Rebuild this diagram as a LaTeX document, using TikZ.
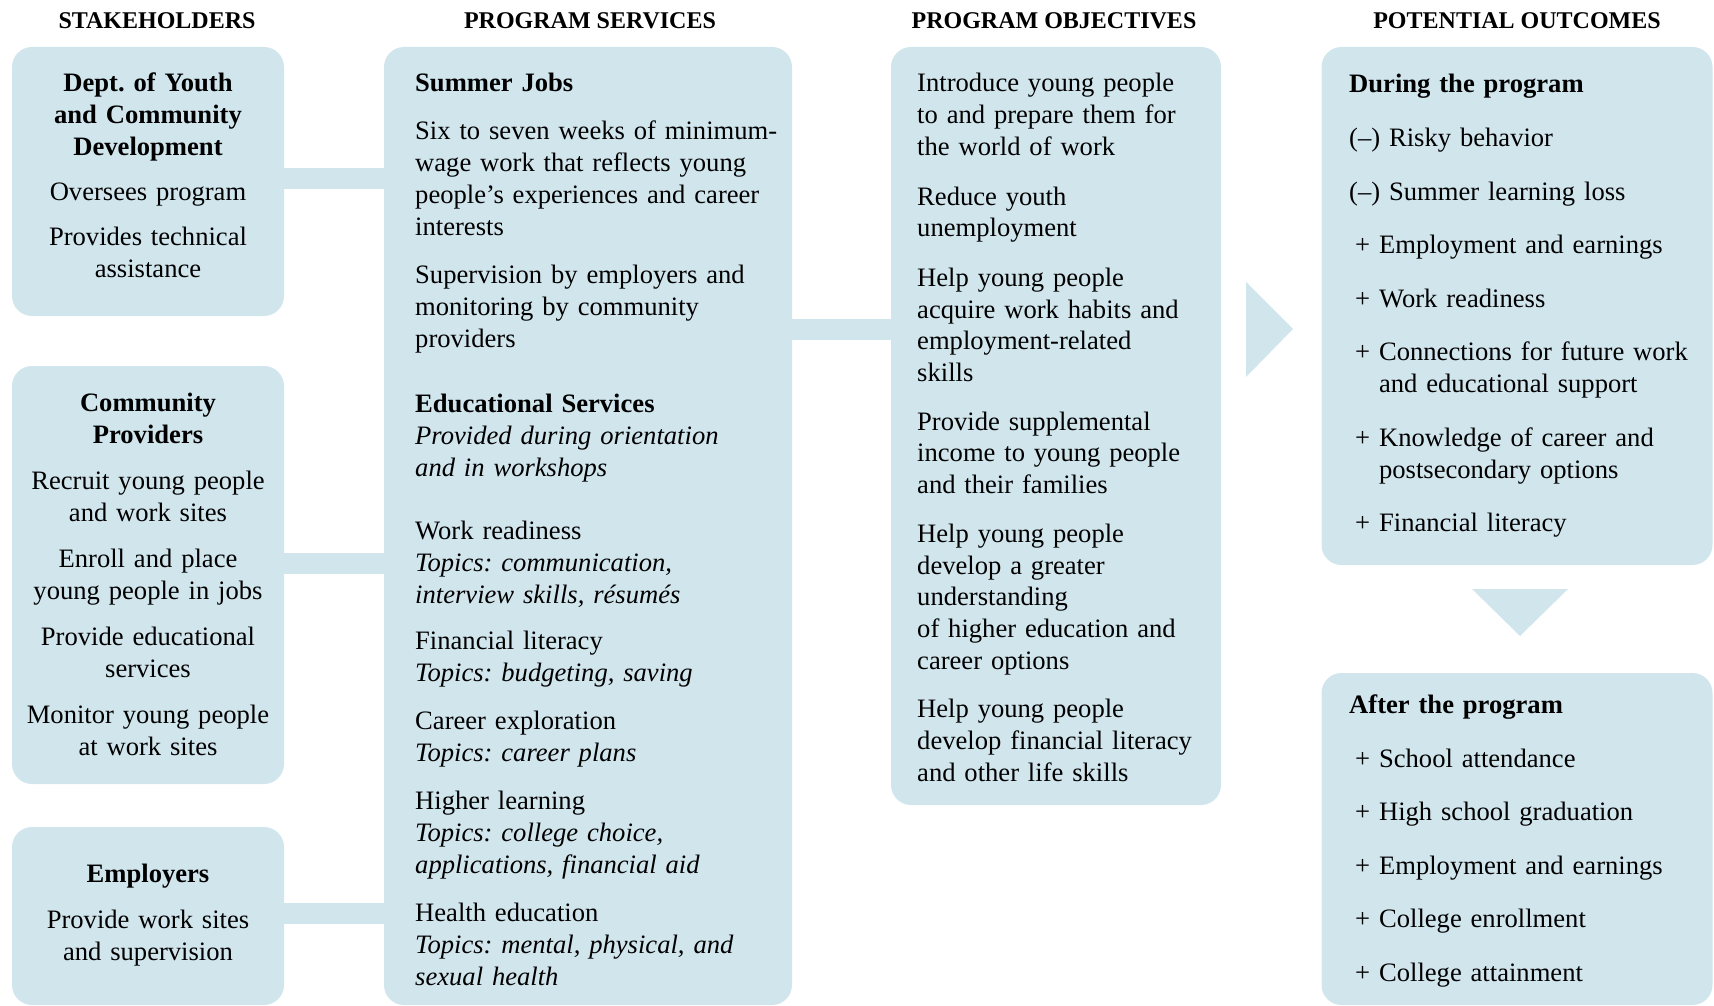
\documentclass[tikz,border=0pt]{standalone}
\usepackage{fontspec}
\setmainfont{Liberation Serif}
\frenchspacing
\definecolor{panelblue}{RGB}{209,229,237}
\newcommand{\pitem}{\hspace*{6pt}+\ }
\newcommand{\pcont}{\hspace*{6pt}\hphantom{+\ }}

\begin{document}
\begin{tikzpicture}[x=1pt, y=-1pt,
  panel/.style={fill=panelblue, rounded corners=20pt, inner sep=0pt},
  bar/.style={draw=panelblue, line width=21pt},
  head/.style={anchor=base, inner sep=0pt, font=\fontsize{24}{28}\selectfont\bfseries},
  ctext/.style={anchor=base, align=center, text width=270pt, inner sep=0pt,
                font=\fontsize{26.6}{32}\selectfont},
  ltext/.style={anchor=base west, align=left, text width=400pt, inner sep=0pt,
                font=\fontsize{26.6}{32}\selectfont}]
  \useasboundingbox (0,0) rectangle (1714,1006);

  % column titles
  \node[head] (h-stake) at (157,29) {STAKEHOLDERS};
  \node[head] (h-serv)  at (590,29) {PROGRAM SERVICES};
  \node[head] (h-obj)   at (1054,29) {PROGRAM OBJECTIVES};
  \node[head] (h-out)   at (1517,29) {POTENTIAL OUTCOMES};

  % panels
  \node[panel, minimum width=272pt, minimum height=269pt] (dyd) at (148,181.5) {};
  \node[panel, minimum width=272pt, minimum height=418pt] (cp)  at (148,575) {};
  \node[panel, minimum width=272pt, minimum height=178pt] (emp) at (148,916) {};
  \node[panel, minimum width=408pt, minimum height=958pt] (svc) at (588,526) {};
  \node[panel, minimum width=330pt, minimum height=758pt] (obj) at (1056,426) {};
  \node[panel, minimum width=391pt, minimum height=518pt] (dur) at (1517,306) {};
  \node[panel, minimum width=391pt, minimum height=332pt] (aft) at (1517,839) {};

  % links between panels
  \coordinate (l1) at (0,178.5);
  \coordinate (l2) at (0,563.5);
  \coordinate (l3) at (0,913.5);
  \coordinate (l4) at (0,329);
  \draw[bar] (dyd.east |- l1) -- (svc.west |- l1);
  \draw[bar] (cp.east |- l2) -- (svc.west |- l2);
  \draw[bar] (emp.east |- l3) -- (svc.west |- l3);
  \draw[bar] (svc.east |- l4) -- (obj.west |- l4);

  % arrow heads
  \fill[panelblue] (1246,282) -- (1293,329) -- (1246,377) -- cycle;
  \fill[panelblue] (1472,589) -- (1568,589) -- (1520,636) -- cycle;

  % stakeholders
  \node[ctext] (dyd-txt) at (148,92) {\bfseries Dept. of Youth\\and Community\\Development\\[13pt]
    \mdseries Oversees program\\[13pt]Provides technical\\assistance};
  \node[ctext] (cp-txt) at (148,411) {\bfseries Community\\Providers\\[14pt]
    \mdseries Recruit young people\\and work sites\\[14pt]Enroll and place\\young people in jobs\\[14pt]
    Provide educational\\services\\[14pt]Monitor young people\\at work sites};
  \node[ctext] (emp-txt) at (148,882) {\bfseries Employers\\[14pt]
    \mdseries Provide work sites\\and supervision};

  % services
  \node[ltext] (svc-txt) at (415,92) {\textbf{Summer Jobs}\\[16pt]
    Six to seven weeks of minimum-\\wage work that reflects young\\people's experiences and career\\interests\\[16pt]
    Supervision by employers and\\monitoring by community\\providers\\[33pt]
    \textbf{Educational Services}\\
    \textit{Provided during orientation}\\\textit{and in workshops}\\[31pt]
    Work readiness\\\textit{Topics: communication,}\\\textit{interview skills, résumés}\\[14pt]
    Financial literacy\\\textit{Topics: budgeting, saving}\\[16pt]
    Career exploration\\\textit{Topics: career plans}\\[16pt]
    Higher learning\\\textit{Topics: college choice,}\\\textit{applications, financial aid}\\[16pt]
    Health education\\\textit{Topics: mental, physical, and}\\\textit{sexual health}};

  % objectives
  \node[ltext, font=\fontsize{26.6}{31.7}\selectfont] (obj-txt) at (917,92) {Introduce young people\\to and prepare them for\\the world of work\\[18pt]
    Reduce youth\\unemployment\\[18pt]
    Help young people\\acquire work habits and\\employment-related\\skills\\[17pt]
    Provide supplemental\\income to young people\\and their families\\[17pt]
    Help young people\\develop a greater\\understanding\\of higher education and\\career options\\[17pt]
    Help young people\\develop financial literacy\\and other life skills};

  % outcomes
  \node[ltext] (dur-txt) at (1349,93) {\textbf{During the program}\\[22pt]
    (--) Risky behavior\\[21.5pt]
    (--) Summer learning loss\\[21.5pt]
    \pitem Employment and earnings\\[21.5pt]
    \pitem Work readiness\\[21.5pt]
    \pitem Connections for future work\\\pcont and educational support\\[21.5pt]
    \pitem Knowledge of career and\\\pcont postsecondary options\\[21.5pt]
    \pitem Financial literacy};
  \node[ltext] (aft-txt) at (1349,713) {\textbf{After the program}\\[22pt]
    \pitem School attendance\\[21.5pt]
    \pitem High school graduation\\[21.5pt]
    \pitem Employment and earnings\\[21.5pt]
    \pitem College enrollment\\[21.5pt]
    \pitem College attainment};
\end{tikzpicture}
\end{document}
